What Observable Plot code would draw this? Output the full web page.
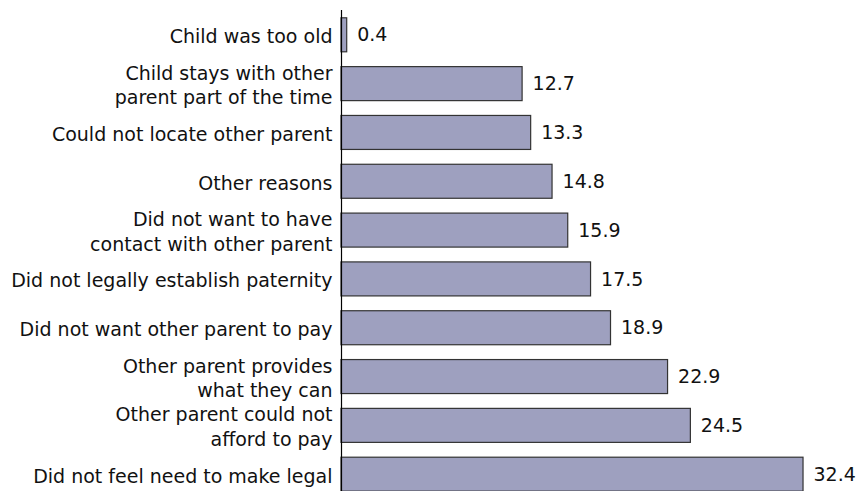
<!DOCTYPE html>
<html>
<head>
<meta charset="utf-8">
<script src="https://cdn.jsdelivr.net/npm/d3@7"></script>
<script src="https://cdn.jsdelivr.net/npm/@observablehq/plot@0.6"></script>
<style>
  html, body { margin: 0; padding: 0; background: #fff; overflow: hidden; }
</style>
</head>
<body>
<div id="chart"></div>
<script>
const categories = [
  "Child was too old",
  "Child stays with other\nparent part of the time",
  "Could not locate other parent",
  "Other reasons",
  "Did not want to have\ncontact with other parent",
  "Did not legally establish paternity",
  "Did not want other parent to pay",
  "Other parent provides\nwhat they can",
  "Other parent could not\nafford to pay",
  "Did not feel need to make legal"
];
const values = [0.4, 12.7, 13.3, 14.8, 15.9, 17.5, 18.9, 22.9, 24.5, 32.4];

const data = categories.map((c, i) => ({category: c, value: values[i]}));

const chart = Plot.plot({
  width: 856,
  height: 491,
  marginLeft: 341,
  marginRight: 0,
  marginTop: 10,
  marginBottom: 0,
  style: {fontFamily: "'DejaVu Sans', sans-serif", fontSize: "19px", color: "#000", background: "#fff"},
  x: {domain: [0, 36], range: [341, 341 + 36 * 14.26], axis: null},
  y: {domain: categories, range: [17.8, 491.2], paddingInner: 0.3036, paddingOuter: 0, round: false, axis: null},
  marks: [
    Plot.barX(data, {x: "value", y: "category", fill: "#9ea0bf", stroke: "#333", strokeWidth: 1.2}),
    Plot.ruleX([0], {stroke: "#000", strokeWidth: 1.2}),
    Plot.text(data, {x: 0, y: "category", text: "category", textAnchor: "end", dx: -9, lineHeight: 1.3, fontSize: 19, fill: "#111"}),
    Plot.text(data, {x: "value", y: "category", text: d => d.value.toFixed(1), textAnchor: "start", dx: 10, fontSize: 19, fill: "#111"})
  ]
});
document.getElementById("chart").appendChild(chart);
</script>
</body>
</html>
